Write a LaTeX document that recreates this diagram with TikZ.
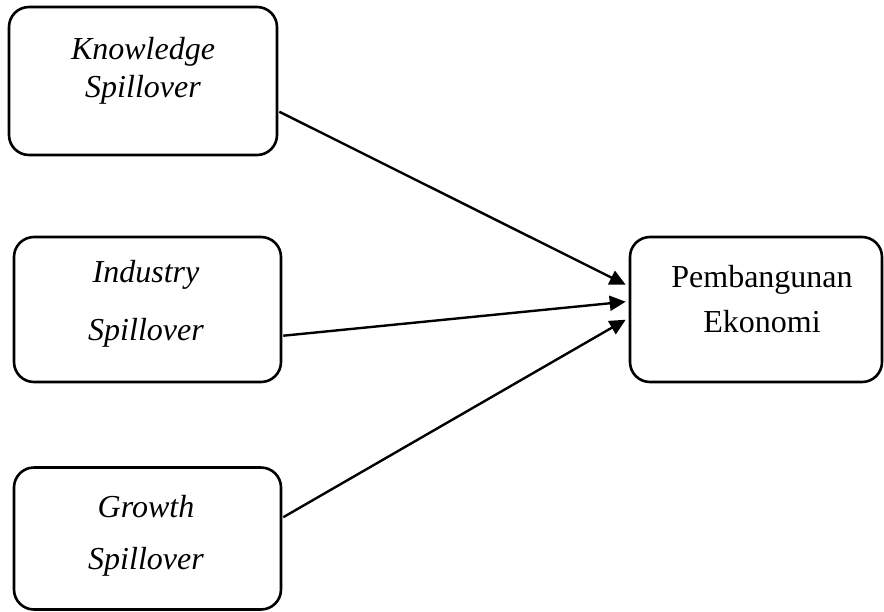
\documentclass[tikz,border=0pt]{standalone}
\usepackage{fontspec}
\setmainfont{Liberation Serif}
\usetikzlibrary{arrows.meta,calc}
\begin{document}
\begin{tikzpicture}[x=1pt,y=-1pt,
  box/.style={draw,line width=2.6pt,rounded corners=20pt,inner sep=0pt},
  lbl/.style={inner sep=0pt,font=\fontsize{32}{38}\selectfont},
  conn/.style={line width=2.4pt,-{Triangle[length=16pt,width=15pt]}}]
\useasboundingbox (0,0) rectangle (884,611);
\node[box,minimum width=268pt,minimum height=148pt] (k) at (143,81) {};
\node[box,minimum width=267pt,minimum height=145pt] (i) at (147.5,309.5) {};
\node[box,minimum width=267pt,minimum height=142pt] (g) at (147.5,538.5) {};
\node[box,minimum width=252pt,minimum height=145pt] (p) at (756,309.5) {};
\node[lbl] (k1) at (143,52) {\itshape Knowledge};
\node[lbl] (k2) at (143,90) {\itshape Spillover};
\node[lbl] (i1) at (146,275) {\itshape Industry};
\node[lbl] (i2) at (146,333) {\itshape Spillover};
\node[lbl] (g1) at (146,507) {\itshape Growth};
\node[lbl] (g2) at (146,562) {\itshape Spillover};
\node[lbl] (p1) at (762,280) {Pembangunan};
\node[lbl] (p2) at (762,322) {Ekonomi};
\coordinate (ks) at ($(k.north east)+(1,106)$);
\coordinate (is) at ($(i.north east)+(1,100)$);
\coordinate (gs) at ($(g.north east)+(1,51)$);
\coordinate (pa) at ($(p.north west)+(-3,49)$);
\coordinate (pb) at ($(p.north west)+(-3,66)$);
\coordinate (pc) at ($(p.north west)+(-3,84)$);
\draw[conn] (ks) -- (pa);
\draw[conn] (is) -- (pb);
\draw[conn] (gs) -- (pc);
\end{tikzpicture}
\end{document}
